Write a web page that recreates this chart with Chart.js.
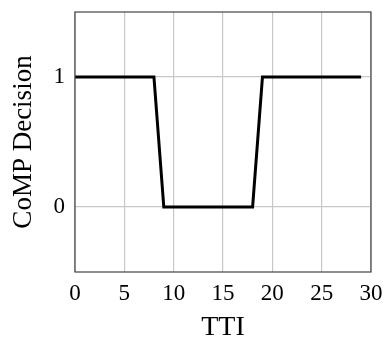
<!DOCTYPE html>
<html>
<head>
<meta charset="utf-8">
<script src="https://cdn.jsdelivr.net/npm/chart.js@4"></script>
<style>
  html, body { margin: 0; padding: 0; background: #fff; }
  #wrap { width: 387px; height: 338px; }
</style>
</head>
<body>
<div id="wrap"><canvas id="comp"></canvas></div>
<script>
// TTI index and CoMP decision (1 = on, 0 = off)
const tti = [0, 1, 2, 3, 4, 5, 6, 7, 8, 9, 10, 11, 12, 13, 14, 15, 16, 17, 18, 19, 20, 21, 22, 23, 24, 25, 26, 27, 28, 29];
const decision = [1, 1, 1, 1, 1, 1, 1, 1, 1, 0, 0, 0, 0, 0, 0, 0, 0, 0, 0, 1, 1, 1, 1, 1, 1, 1, 1, 1, 1, 1];
const yTicks = [0, 1];

const serif = "'Liberation Serif', 'DejaVu Serif', serif";

// frame around the plot area
const framePlugin = {
    id: 'frame',
    afterDraw(chart) {
        const { ctx, chartArea: a } = chart;
        ctx.save();
        ctx.strokeStyle = '#444';
        ctx.lineWidth = 1.2;
        ctx.strokeRect(a.left, a.top, a.right - a.left, a.bottom - a.top);
        ctx.restore();
    }
};

new Chart(document.getElementById('comp'), {
    type: 'line',
    data: {
        datasets: [{
            data: tti.map((t, i) => ({ x: t, y: decision[i] })),
            borderColor: '#000',
            borderWidth: 3,
            pointRadius: 0,
            tension: 0,
            fill: false
        }]
    },
    options: {
        responsive: true,
        maintainAspectRatio: false,
        animation: false,
        layout: { padding: { top: 12, right: 16, left: 0, bottom: 0 } },
        plugins: {
            legend: { display: false },
            tooltip: { enabled: false }
        },
        scales: {
            x: {
                type: 'linear',
                min: 0,
                max: 30,
                ticks: { stepSize: 5, color: '#000', font: { family: serif, size: 23 }, padding: 8, maxRotation: 0 },
                grid: { color: '#c8c8c8', lineWidth: 1.2, tickLength: 0 },
                border: { display: false },
                title: { display: true, text: 'TTI', color: '#000', font: { family: serif, size: 28 }, padding: { top: 0, bottom: -6 } },
                afterFit(scale) {
                    scale.height = 66;
                    scale.paddingLeft = 0;
                    scale.paddingRight = 0;
                }
            },
            y: {
                min: -0.5,
                max: 1.5,
                afterBuildTicks(scale) { scale.ticks = yTicks.map(v => ({ value: v })); },
                ticks: { color: '#000', font: { family: serif, size: 23 }, padding: 10 },
                grid: { color: '#c8c8c8', lineWidth: 1.2, tickLength: 0 },
                border: { display: false },
                title: { display: true, text: 'CoMP Decision', color: '#000', font: { family: serif, size: 27 }, padding: { top: 8, bottom: 0 } },
                afterFit(scale) {
                    scale.width = 75;
                    scale.paddingTop = 0;
                    scale.paddingBottom = 0;
                }
            }
        }
    },
    plugins: [framePlugin]
});
</script>
</body>
</html>
